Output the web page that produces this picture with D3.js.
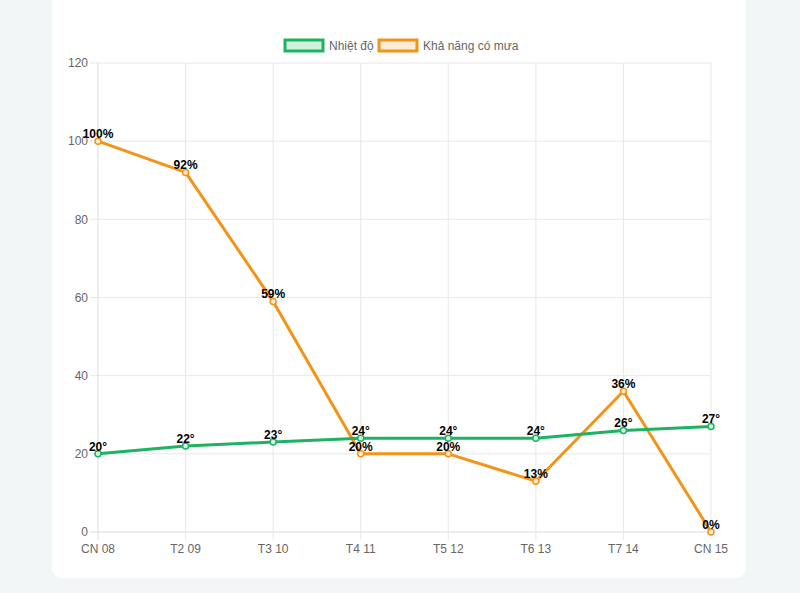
<!DOCTYPE html>
<html>
<head>
<meta charset="utf-8">
<script src="https://cdn.jsdelivr.net/npm/d3@7"></script>
<style>
  html, body { margin: 0; padding: 0; background: #f3f6f7; }
  svg { display: block; }
</style>
</head>
<body>
<svg id="chart" width="800" height="593"></svg>
<script>
const categories = ["CN 08", "T2 09", "T3 10", "T4 11", "T5 12", "T6 13", "T7 14", "CN 15"];
const temperature = [20, 22, 23, 24, 24, 24, 26, 27];
const rainChance = [100, 92, 59, 20, 20, 13, 36, 0];
const yTicks = [0, 20, 40, 60, 80, 100, 120];
const seriesNames = ["Nhiệt độ", "Khả năng có mưa"];

(function () {
const font = "'Liberation Sans', Arial, Helvetica, sans-serif";
const svg = d3.select("#chart");

svg.append("rect").attr("x", 52).attr("y", -20).attr("width", 694).attr("height", 598)
  .attr("rx", 10).attr("fill", "#ffffff");

const pLeft = 98, pRight = 711, pTop = 63, pBottom = 532;
const x = d3.scalePoint().domain(categories).range([pLeft, pRight]);
const y = d3.scaleLinear().domain([0, 120]).range([pBottom, pTop]);

const grid = svg.append("g");
grid.selectAll("line.h").data(yTicks).enter().append("line")
  .attr("x1", pLeft - 8).attr("x2", pRight)
  .attr("y1", d => y(d)).attr("y2", d => y(d))
  .attr("stroke", d => d === 0 ? "#dcdcdc" : "#e8e8e8").attr("stroke-width", 1);
grid.selectAll("line.v").data(categories).enter().append("line")
  .attr("x1", d => x(d)).attr("x2", d => x(d))
  .attr("y1", pTop).attr("y2", pBottom + 8)
  .attr("stroke", (d, i) => i === 0 ? "#dcdcdc" : "#e8e8e8").attr("stroke-width", 1);

svg.append("g").selectAll("text").data(yTicks).enter().append("text")
  .attr("x", pLeft - 10).attr("y", d => y(d)).attr("dy", "0.35em")
  .attr("text-anchor", "end").attr("font-family", font).attr("font-size", 12)
  .attr("fill", "#666").text(d => d);
svg.append("g").selectAll("text").data(categories).enter().append("text")
  .attr("x", d => x(d)).attr("y", pBottom + 21)
  .attr("text-anchor", "middle").attr("font-family", font).attr("font-size", 12)
  .attr("fill", "#666").text(d => d);

const line = d3.line().x((d, i) => x(categories[i])).y(d => y(d)).curve(d3.curveLinear);

const series = [
  { name: seriesNames[0], values: temperature, stroke: "#1db362", fill: "#d2f2de", suffix: "°" },
  { name: seriesNames[1], values: rainChance, stroke: "#f39418", fill: "#fdecd6", suffix: "%" }
];

[series[1], series[0]].forEach(s => {
  svg.append("path").datum(s.values).attr("d", line)
    .attr("fill", "none").attr("stroke", s.stroke).attr("stroke-width", 3)
    .attr("stroke-linejoin", "round");
  svg.append("g").selectAll("circle").data(s.values).enter().append("circle")
    .attr("cx", (d, i) => x(categories[i])).attr("cy", d => y(d)).attr("r", 3)
    .attr("fill", s.fill).attr("stroke", s.stroke).attr("stroke-width", 1.5);
});

series.forEach(s => {
  svg.append("g").selectAll("text").data(s.values).enter().append("text")
    .attr("x", (d, i) => x(categories[i])).attr("y", d => y(d) - 3)
    .attr("text-anchor", "middle").attr("font-family", font).attr("font-size", 12)
    .attr("font-weight", "bold").attr("fill", "#000").text(d => d + s.suffix);
});

const legendItems = [
  { s: series[0], bx: 285, tx: 329 },
  { s: series[1], bx: 379, tx: 423 }
];
legendItems.forEach(item => {
  svg.append("rect").attr("x", item.bx).attr("y", 40).attr("width", 38).attr("height", 11)
    .attr("fill", item.s.fill).attr("stroke", item.s.stroke).attr("stroke-width", 3);
  svg.append("text").attr("x", item.tx).attr("y", 46).attr("dy", "0.35em")
    .attr("font-family", font).attr("font-size", 12).attr("fill", "#666").text(item.s.name);
});
})();
</script>
</body>
</html>
